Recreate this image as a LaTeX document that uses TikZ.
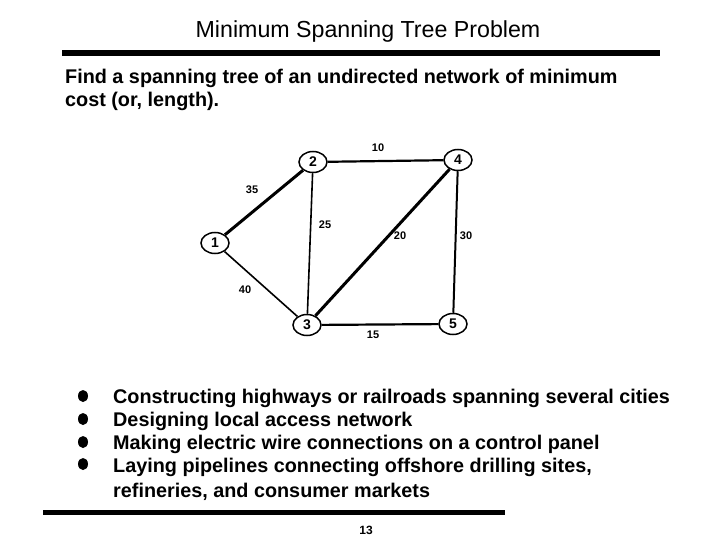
\documentclass[tikz,border=0pt]{standalone}
\usepackage{fontspec}
\setmainfont{Liberation Sans}
\usetikzlibrary{shapes.geometric}
\begin{document}
\begin{tikzpicture}[x=1pt,y=-1pt,
  vert/.style={draw,ellipse,line width=1.5pt,minimum width=28pt,minimum height=21pt,inner sep=0pt,font=\fontsize{14}{14}\selectfont\bfseries},
  wlab/.style={font=\fontsize{11}{11}\selectfont\bfseries,inner sep=0pt},
  bodyline/.style={anchor=base west,inner sep=0pt,font=\fontsize{19.8}{19.8}\selectfont\bfseries},
  bul/.style={ellipse,fill=black,inner sep=0pt,minimum width=10pt,minimum height=12pt},
  rule/.style={line width=6pt}]
\useasboundingbox (0,0) rectangle (720,540);
\node[font=\fontsize{23.2}{23.2}\selectfont,anchor=base,inner sep=0pt] (title) at (368,38) {Minimum Spanning Tree Problem};
\coordinate (r1a) at (62,53); \coordinate (r1b) at (660,53);
\draw[rule] (r1a) -- (r1b);
\node[bodyline] (p1) at (65,84) {Find a spanning tree of an undirected network of minimum};
\node[bodyline] (p2) at (65,107) {cost (or, length).};
% graph
\node[vert] (n1) at (215,243) {1};
\node[vert] (n2) at (313,162) {2};
\node[vert] (n3) at (307,325) {3};
\node[vert] (n4) at (458,160) {4};
\node[vert] (n5) at (453,324) {5};
\draw[line width=3pt] (n1) -- (n2);
\draw[line width=1.6pt] (n1) -- (n3);
\draw[line width=1.6pt] (n2) -- (n3);
\draw[line width=2.2pt] (n2) -- (n4);
\draw[line width=3pt] (n3) -- (n4);
\draw[line width=2pt] (n4) -- (n5);
\draw[line width=2.2pt] (n3) -- (n5);
\node[wlab] (l10) at (378,148) {10};
\node[wlab] (l35) at (252,190) {35};
\node[wlab] (l25) at (325,225) {25};
\node[wlab] (l20) at (400,236) {20};
\node[wlab] (l30) at (466,236) {30};
\node[wlab] (l40) at (245,290) {40};
\node[wlab] (l15) at (373,335) {15};
% bullets
\node[bul] (b1) at (83,396) {};
\node[bul] (b2) at (83,419) {};
\node[bul] (b3) at (83,442) {};
\node[bul] (b4) at (83,464) {};
\node[bodyline] (t1) at (113,403) {Constructing highways or railroads spanning several cities};
\node[bodyline] (t2) at (113,426) {Designing local access network};
\node[bodyline] (t3) at (113,449) {Making electric wire connections on a control panel};
\node[bodyline] (t4) at (113,472) {Laying pipelines connecting offshore drilling sites,};
\node[bodyline] (t5) at (113,497) {refineries, and consumer markets};
\coordinate (r2a) at (43,512); \coordinate (r2b) at (505,512);
\draw[line width=5pt] (r2a) -- (r2b);
\node[font=\fontsize{12}{12}\selectfont\bfseries,inner sep=0pt] (pg) at (366,530) {13};
\end{tikzpicture}
\end{document}
